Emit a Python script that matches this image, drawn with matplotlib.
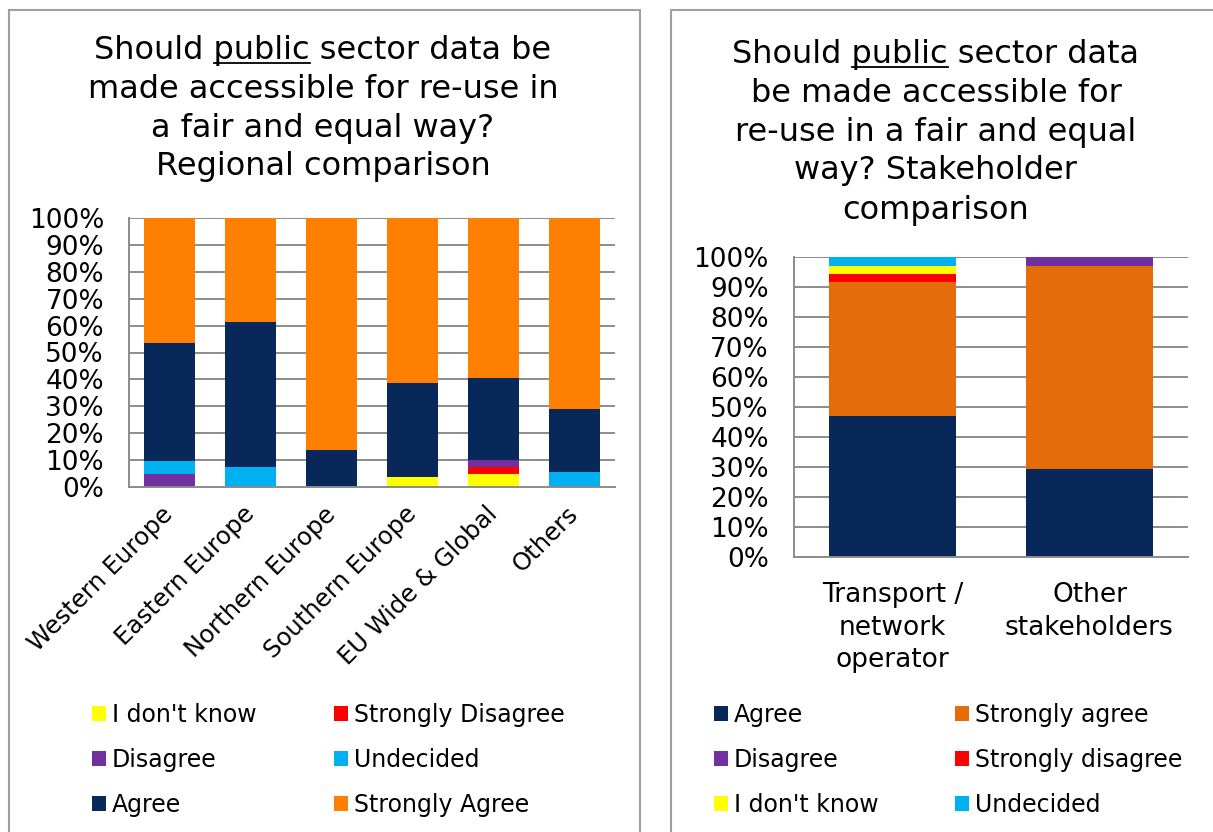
import matplotlib
matplotlib.use('Agg')
import matplotlib.pyplot as plt
from matplotlib.patches import Patch, Rectangle
from matplotlib.lines import Line2D
from matplotlib.ticker import MultipleLocator, PercentFormatter

# ---- data (percent of respondents) ----
regions = ['Western Europe', 'Eastern Europe', 'Northern Europe',
           'Southern Europe', 'EU Wide & Global', 'Others']
reg_dont_know = [0, 0, 0, 3.9, 4.7, 0]
reg_strongly_disagree = [0, 0, 0, 0, 2.6, 0]
reg_disagree = [4.9, 0, 0, 0, 2.6, 0]
reg_undecided = [4.9, 7.3, 0, 0, 0, 5.5]
reg_agree = [43.9, 54.1, 13.9, 34.9, 30.7, 23.6]
reg_strongly_agree = [46.3, 38.6, 86.1, 61.2, 59.4, 70.9]

stakeholders = ['Transport /\nnetwork\noperator', 'Other\nstakeholders']
stk_agree = [47.0, 29.5]
stk_strongly_agree = [44.8, 67.6]
stk_disagree = [0, 2.9]
stk_strongly_disagree = [2.7, 0]
stk_dont_know = [2.6, 0]
stk_undecided = [2.9, 0]

left_title = ['Should public sector data be', 'made accessible for re-use in',
              'a fair and equal way?', 'Regional comparison']
right_title = ['Should public sector data', 'be made accessible for',
               're-use in a fair and equal', 'way? Stakeholder', 'comparison']

NAVY = '#08285A'
ORANGE = '#FF8000'
DARK_ORANGE = '#E46C0A'
PURPLE = '#7030A0'
RED = '#FF0000'
YELLOW = '#FFFF00'
SKY = '#00B0F0'
GRID = '#8C8C8C'

W, H = 1213, 832
plt.rcParams['font.family'] = ['DejaVu Sans']


def fx(px):
    return px / W


def fy(py):
    return 1 - py / H


fig = plt.figure(figsize=(W / 100, H / 100), dpi=100)

# panel frames
for x0, x1 in [(9, 640), (671, 1260)]:
    fig.patches.append(Rectangle((fx(x0), -0.05), fx(x1 - x0), fy(10) + 0.05,
                                 transform=fig.transFigure, fill=False,
                                 edgecolor='#A0A0A0', lw=1.5))


def style_ax(ax):
    ax.set_ylim(0, 100)
    ax.yaxis.set_major_locator(MultipleLocator(10))
    ax.yaxis.set_major_formatter(PercentFormatter(decimals=0))
    ax.grid(axis='y', color=GRID, lw=1.4)
    ax.set_axisbelow(True)
    for s in ['top', 'right']:
        ax.spines[s].set_visible(False)
    for s in ['left', 'bottom']:
        ax.spines[s].set_color(GRID)
        ax.spines[s].set_linewidth(1.4)
    ax.tick_params(length=0, labelsize=19, pad=18)


def stack(ax, series, colors, labels):
    x = range(len(series[0]))
    bottom = [0] * len(series[0])
    handles = []
    for vals, c, lab in zip(series, colors, labels):
        ax.bar(x, vals, width=0.64, bottom=bottom, color=c, lw=0)
        bottom = [b + v for b, v in zip(bottom, vals)]
        handles.append(Patch(facecolor=c, label=lab))
    return handles


# ---- left chart ----
ax1 = fig.add_axes([fx(129), fy(487), fx(615 - 129), (487 - 218) / H])
style_ax(ax1)
h_left = stack(ax1,
               [reg_dont_know, reg_strongly_disagree, reg_disagree,
                reg_undecided, reg_agree, reg_strongly_agree],
               [YELLOW, RED, PURPLE, SKY, NAVY, ORANGE],
               ["I don't know", 'Strongly Disagree', 'Disagree',
                'Undecided', 'Agree', 'Strongly Agree'])
ax1.set_xlim(-0.5, 5.5)
ax1.set_xticks(range(len(regions)))
ax1.set_xticklabels(regions, rotation=45, ha='right', va='center',
                    rotation_mode='anchor', fontsize=17.5)
ax1.tick_params(axis='x', pad=17)

# ---- right chart ----
ax2 = fig.add_axes([fx(794), fy(557), fx(1188 - 794), (557 - 257) / H])
style_ax(ax2)
h_right = stack(ax2,
                [stk_agree, stk_strongly_agree, stk_disagree,
                 stk_strongly_disagree, stk_dont_know, stk_undecided],
                [NAVY, DARK_ORANGE, PURPLE, RED, YELLOW, SKY],
                ['Agree', 'Strongly agree', 'Disagree',
                 'Strongly disagree', "I don't know", 'Undecided'])
ax2.set_xlim(-0.5, 1.5)
ax2.set_xticks(range(len(stakeholders)))
ax2.set_xticklabels(stakeholders, linespacing=1.33)
ax2.tick_params(axis='x', pad=18)

# legends (row-wise order in the picture -> column-major for matplotlib)
leg_kw = dict(ncol=2, loc='upper left', frameon=False, fontsize=17,
              handlelength=0.6, handleheight=0.6, handletextpad=0.25,
              labelspacing=0.88, borderpad=0, borderaxespad=0)
order = [0, 2, 4, 1, 3, 5]
fig.legend([h_left[i] for i in order],
           [h_left[i].get_label() for i in order],
           bbox_to_anchor=(fx(92), fy(703)), columnspacing=3.27, **leg_kw)
fig.legend([h_right[i] for i in order],
           [h_right[i].get_label() for i in order],
           bbox_to_anchor=(fx(714), fy(703)), columnspacing=3.24, **leg_kw)

# titles
title_texts = []
for lines, xc, ys in [(left_title, 323, [51, 90, 129, 167]),
                      (right_title, 936, [55, 93, 132, 171, 210])]:
    for line, yc in zip(lines, ys):
        t = fig.text(fx(xc), fy(yc), line, ha='center', va='center', fontsize=23)
        if 'public' in line:
            title_texts.append(t)

# underline the word "public" in both titles
fig.canvas.draw()
r = fig.canvas.get_renderer()
for t in title_texts:
    s = t.get_text()
    prop = t.get_fontproperties()
    i = s.index('public') + len('public')
    w_pre, _, _ = r.get_text_width_height_descent(s[:i], prop, ismath=False)
    w_word, _, _ = r.get_text_width_height_descent('public', prop, ismath=False)
    _, _, d_full = r.get_text_width_height_descent(s, prop, ismath=False)
    bb = t.get_window_extent(r)
    x_end = bb.x0 + w_pre
    x_start = x_end - w_word
    y = bb.y0 + d_full - 3
    fig.add_artist(Line2D([x_start / W, x_end / W], [y / H, y / H],
                          transform=fig.transFigure, color='black', lw=1.3))

fig.savefig('out.png', dpi=100)
